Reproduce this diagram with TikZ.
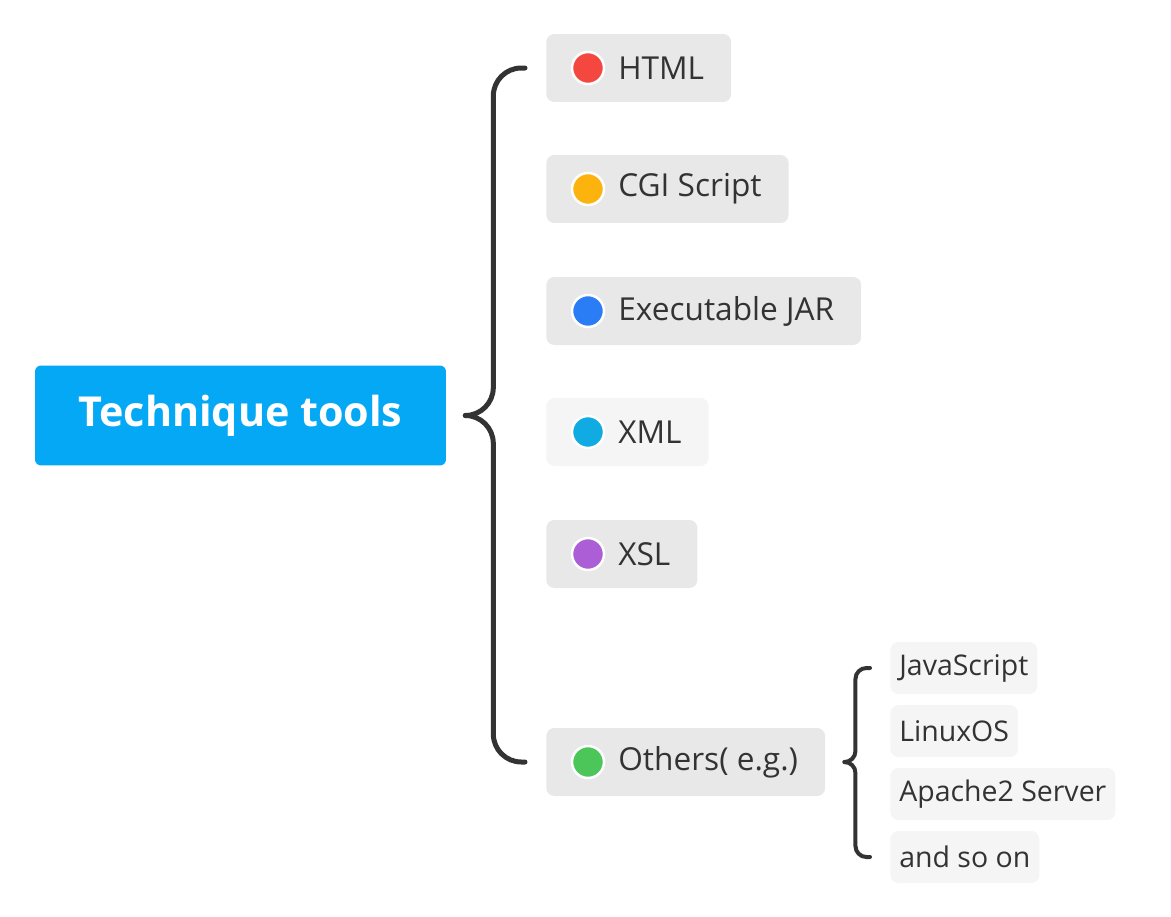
\documentclass[tikz,border=0pt]{standalone}
\usepackage{fontspec}
\setmainfont{Open Sans}
\usetikzlibrary{positioning,calc}
\definecolor{rootblue}{HTML}{05A8F4}
\definecolor{inkgray}{HTML}{333333}
\definecolor{boxgray}{HTML}{E8E8E8}
\definecolor{palegray}{HTML}{F5F5F5}
\definecolor{dotred}{HTML}{F4473F}
\definecolor{dotorange}{HTML}{FDB30E}
\definecolor{dotblue}{HTML}{2A7DF5}
\definecolor{dotcyan}{HTML}{10ABE2}
\definecolor{dotpurple}{HTML}{AB5ED6}
\definecolor{dotgreen}{HTML}{4CC659}
\tikzset{
  rootbox/.style={fill=rootblue, text=white, rounded corners=0.12cm, minimum width=8.22cm,
    minimum height=2cm, font=\fontsize{23.5}{26}\selectfont\bfseries},
  topic/.style={fill=boxgray, text=inkgray, rounded corners=0.16cm, anchor=west,
    minimum height=1.36cm, inner xsep=0.54cm, font=\fontsize{18}{21}\selectfont},
  subtopic/.style={fill=palegray, text=inkgray, rounded corners=0.16cm, anchor=west,
    minimum height=1.04cm, inner xsep=0.18cm, font=\fontsize{16.2}{19}\selectfont},
  dot/.style={circle, draw=white, line width=0.05cm, minimum size=0.64cm, inner sep=0pt},
  brace/.style={draw=inkgray, line width=0.1cm, line cap=round}
}
\newcommand{\gap}{\hspace*{0.9cm}}
\begin{document}
\begin{tikzpicture}[x=0.02cm,y=-0.02cm]
\useasboundingbox (0,0) rectangle (1171,917);
% main topic
\node[rootbox] (root) at (240.5,415.5) {Technique tools};
% subtopics
\node[topic] (html) at (546,68) {\gap HTML};
\node[topic] (cgi) at (546,189) {\gap CGI Script};
\node[topic] (jar) at (546,311) {\gap Executable JAR};
\node[topic, fill=palegray] (xml) at (546,432) {\gap XML};
\node[topic] (xsl) at (546,554) {\gap XSL};
\node[topic] (others) at (546,762) {\gap Others( e.g.)};
\node[dot, fill=dotred] (htmldot) at ($(html.west)+(42,0)$) {};
\node[dot, fill=dotorange] (cgidot) at ($(cgi.west)+(42,0)$) {};
\node[dot, fill=dotblue] (jardot) at ($(jar.west)+(42,0)$) {};
\node[dot, fill=dotcyan] (xmldot) at ($(xml.west)+(42,0)$) {};
\node[dot, fill=dotpurple] (xsldot) at ($(xsl.west)+(42,0)$) {};
\node[dot, fill=dotgreen] (othersdot) at ($(others.west)+(42,0)$) {};
% examples
\node[subtopic] (js) at (890,668) {JavaScript};
\node[subtopic] (linux) at (890,731) {LinuxOS};
\node[subtopic] (apache) at (890,794) {Apache2 Server};
\node[subtopic] (etc) at (890,857) {and so on};
% braces
\coordinate (tip) at ($(root.east)+(19,0)$);
\coordinate (spine) at ($(tip)+(28,0)$);
\coordinate (htmlend) at ($(html.west)+(-21,0)$);
\coordinate (othersend) at ($(others.west)+(-21,0)$);
\draw[brace, rounded corners=0.56cm] (tip) -- (tip -| spine) -- (htmlend -| spine) -- (htmlend);
\draw[brace, rounded corners=0.56cm] (tip) -- (tip -| spine) -- (othersend -| spine) -- (othersend);
\coordinate (subtip) at ($(others.east)+(19,0)$);
\coordinate (subspine) at ($(subtip)+(11,0)$);
\coordinate (jsend) at ($(js.west)+(-20,0)$);
\coordinate (etcend) at ($(etc.west)+(-20,0)$);
\draw[brace, line width=0.08cm, rounded corners=0.22cm] (subtip) -- (subtip -| subspine) -- (jsend -| subspine) -- (jsend);
\draw[brace, line width=0.08cm, rounded corners=0.22cm] (subtip) -- (subtip -| subspine) -- (etcend -| subspine) -- (etcend);
\end{tikzpicture}
\end{document}
